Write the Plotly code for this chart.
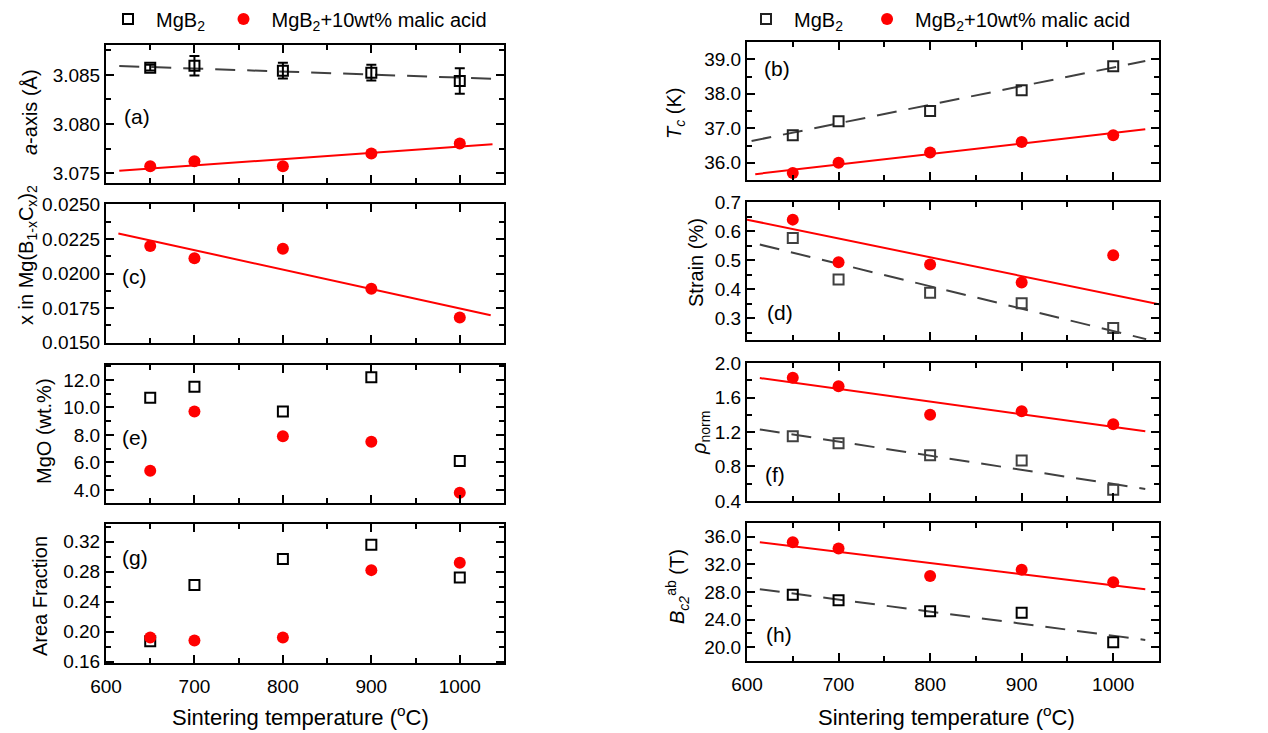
import plotly.graph_objects as go

# ---------------- data ----------------
temp = [650, 700, 800, 900, 1000]

a_mgb2 = [3.08575, 3.08595, 3.08544, 3.08524, 3.08439]
a_mgb2_err = [0.0003, 0.0010, 0.0008, 0.0008, 0.0013]
a_ma = [3.0757, 3.0762, 3.0757, 3.0770, 3.0780]
a_ma_err = [0.0002, 0.0002, 0.0002, 0.0002, 0.0002]
a_fit_x = [615, 1037]
a_fit_mgb2 = [3.08592, 3.08462]
a_fit_ma = [3.07523, 3.07793]

tc_mgb2 = [36.8, 37.2, 37.5, 38.1, 38.8]
tc_ma = [35.7, 36.0, 36.3, 36.6, 36.8]
tc_fit_x_mgb2 = [605, 1035]
tc_fit_mgb2 = [36.63, 38.95]
tc_fit_x_ma = [609, 1035]
tc_fit_ma = [35.67, 36.97]

xc_ma = [0.0220, 0.0211, 0.0218, 0.0189, 0.0168]
xc_fit_x = [614, 1035]
xc_fit_ma = [0.02291, 0.01697]

strain_mgb2 = [0.577, 0.434, 0.388, 0.352, 0.266]
strain_ma = [0.640, 0.493, 0.485, 0.423, 0.517]
strain_fit_x_mgb2 = [614, 1036]
strain_fit_mgb2 = [0.554, 0.228]
strain_fit_x_ma = [600, 1050]
strain_fit_ma = [0.640, 0.348]

mgo_mgb2 = [10.7, 11.5, 9.7, 12.2, 6.1]
mgo_ma = [5.4, 9.7, 7.9, 7.5, 3.8]

rho_mgb2 = [1.15, 1.07, 0.93, 0.87, 0.53]
rho_ma = [1.83, 1.73, 1.40, 1.44, 1.29]
rho_fit_x = [614, 1035]
rho_fit_mgb2 = [1.23, 0.54]
rho_fit_ma = [1.826, 1.208]

af_mgb2 = [0.187, 0.262, 0.297, 0.316, 0.272]
af_ma = [0.192, 0.188, 0.192, 0.282, 0.292]

bc2_mgb2 = [27.6, 26.8, 25.2, 25.0, 20.7]
bc2_ma = [35.2, 34.3, 30.3, 31.2, 29.4]
bc2_fit_x = [614, 1035]
bc2_fit_mgb2 = [28.4, 21.05]
bc2_fit_ma = [35.2, 28.4]

label_mgb2 = "MgB<sub>2</sub>"
label_ma = "MgB<sub>2</sub>+10wt% malic acid"

# ---------------- styles ----------------
W, H = 1268, 733
FONT = "Liberation Sans, Arial, sans-serif"
RED = "#ff0000"
BLK = "#000000"
GRY = "#404040"
DASH = "20px,12px"
TICKSIZE = 19

def px_to_xdom(a, b):
    return [a / W, b / W]

def px_to_ydom(top, bottom):
    return [1 - bottom / H, 1 - top / H]

left_x = px_to_xdom(106, 504)
right_x = px_to_xdom(747, 1159)

# panel: (xdomain, ypx top, ypx bottom, yrange, dtick, tick0, minor dtick, format, bottom row)
panels = {
    1: (left_x, 45, 183, [3.07398, 3.08806], 0.005, 3.075, 0.0025, ".3f", False),   # a
    2: (right_x, 42, 180, [35.5, 39.5], 1.0, 36.0, 0.5, ".1f", False),              # b
    3: (left_x, 204, 343, [0.01495, 0.02505], 0.0025, 0.015, 0.00125, ".4f", False), # c
    4: (right_x, 202, 340, [0.225, 0.7008], 0.1, 0.3, 0.05, ".1f", False),          # d
    5: (left_x, 365, 503, [3.05, 13.09], 2.0, 4.0, 1.0, ".1f", False),               # e
    6: (right_x, 363, 501, [0.3995, 2.0008], 0.4, 0.4, 0.2, ".1f", False),           # f
    7: (left_x, 524, 663, [0.158, 0.3436], 0.04, 0.16, 0.02, ".2f", True),           # g
    8: (right_x, 523, 661, [18.0, 37.98], 4.0, 20.0, 2.0, ".1f", True),              # h
}

fig = go.Figure()

def ax_names(i):
    return ("x" if i == 1 else f"x{i}"), ("y" if i == 1 else f"y{i}")

def add_markers(i, y, kind, color=None, err=None, legend=None, showlegend=False, pad=""):
    xa, ya = ax_names(i)
    if kind == "sq":
        c = color or BLK
        marker = dict(symbol="square-open", size=10, color=c, line=dict(width=2, color=c))
        name = label_mgb2 + pad
    else:
        marker = dict(symbol="circle", size=12, color=RED, line=dict(width=0))
        name = label_ma
    tr = dict(x=temp, y=y, mode="markers", marker=marker, name=name,
              xaxis=xa, yaxis=ya, showlegend=showlegend, cliponaxis=False)
    if legend:
        tr["legend"] = legend
    if err is not None:
        tr["error_y"] = dict(type="data", array=err, visible=True,
                             color=(BLK if kind == "sq" else RED), thickness=2, width=5)
    fig.add_trace(go.Scatter(**tr))

def add_fit(i, xs, ys, kind):
    xa, ya = ax_names(i)
    if kind == "sq":
        line = dict(color=GRY, width=2, dash=DASH)
    else:
        line = dict(color=RED, width=2)
    fig.add_trace(go.Scatter(x=xs, y=ys, mode="lines", line=line, xaxis=xa, yaxis=ya,
                             showlegend=False, hoverinfo="skip"))

# (a)
add_fit(1, a_fit_x, a_fit_mgb2, "sq")
add_fit(1, a_fit_x, a_fit_ma, "ci")
add_markers(1, a_mgb2, "sq", err=a_mgb2_err, legend="legend", showlegend=True, pad="\u00a0")
add_markers(1, a_ma, "ci", err=a_ma_err, legend="legend", showlegend=True)
# (b)
add_fit(2, tc_fit_x_mgb2, tc_fit_mgb2, "sq")
add_fit(2, tc_fit_x_ma, tc_fit_ma, "ci")
add_markers(2, tc_mgb2, "sq", color="#222222", legend="legend2", showlegend=True,
            pad="\u00a0\u00a0")
add_markers(2, tc_ma, "ci", legend="legend2", showlegend=True)
# (c)
add_fit(3, xc_fit_x, xc_fit_ma, "ci")
add_markers(3, xc_ma, "ci")
# (d)
add_fit(4, strain_fit_x_mgb2, strain_fit_mgb2, "sq")
add_fit(4, strain_fit_x_ma, strain_fit_ma, "ci")
add_markers(4, strain_mgb2, "sq", color=GRY)
add_markers(4, strain_ma, "ci")
# (e)
add_markers(5, mgo_mgb2, "sq")
add_markers(5, mgo_ma, "ci")
# (f)
add_fit(6, rho_fit_x, rho_fit_mgb2, "sq")
add_fit(6, rho_fit_x, rho_fit_ma, "ci")
add_markers(6, rho_mgb2, "sq", color=GRY)
add_markers(6, rho_ma, "ci")
# (g)
add_markers(7, af_mgb2, "sq")
add_markers(7, af_ma, "ci")
# (h)
add_fit(8, bc2_fit_x, bc2_fit_mgb2, "sq")
add_fit(8, bc2_fit_x, bc2_fit_ma, "ci")
add_markers(8, bc2_mgb2, "sq")
add_markers(8, bc2_ma, "ci")

layout = {}
for i, (xd, top, bot, yr, dt, t0, mdt, fmt, bottom) in panels.items():
    xa, ya = ax_names(i)
    xkey = "xaxis" if i == 1 else f"xaxis{i}"
    ykey = "yaxis" if i == 1 else f"yaxis{i}"
    common = dict(ticks="inside", ticklen=8, tickwidth=2, tickcolor="black",
                  showline=True, linewidth=2, linecolor="black", mirror="allticks",
                  showgrid=False, zeroline=False, automargin=False,
                  tickfont=dict(family=FONT, size=TICKSIZE, color="black"))
    layout[xkey] = dict(common, domain=xd, anchor=ya, range=[600, 1050],
                        tickmode="linear", tick0=600, dtick=100,
                        showticklabels=bottom, ticklabelstandoff=5,
                        minor=dict(tick0=600, dtick=50, ticks="inside", ticklen=5,
                                   tickwidth=2, tickcolor="black", showgrid=False))
    layout[ykey] = dict(common, domain=px_to_ydom(top, bot), anchor=xa, range=yr,
                        tickmode="linear", tick0=t0, dtick=dt, tickformat=fmt,
                        ticklabelstandoff=0,
                        minor=dict(tick0=t0, dtick=mdt, ticks="inside", ticklen=5,
                                   tickwidth=2, tickcolor="black", showgrid=False))

annotations = []
def ann(text, x, y, size=20, angle=0):
    annotations.append(dict(text=text, x=x / W, y=1 - y / H, xref="paper", yref="paper",
                            showarrow=False, xanchor="center", yanchor="middle",
                            textangle=angle, font=dict(family=FONT, size=size, color="black")))

# panel labels
for t, x, y in [("(a)", 137, 116), ("(c)", 134, 276), ("(e)", 135, 437), ("(g)", 135, 557),
                ("(b)", 777, 69), ("(d)", 780, 313), ("(f)", 775, 474), ("(h)", 779, 634)]:
    ann(t, x, y, size=21)

# y titles
ann("<i>a</i>-axis (Å)", 30, 112, angle=-90)
ann("x in Mg(B<sub>1-x</sub>C<sub>x</sub>)<sub>2</sub>", 27, 255, angle=-90)
ann("MgO (wt.%)", 44, 431, angle=-90)
ann("Area Fraction", 40, 596, angle=-90)
ann("<i>T</i><sub><i>c</i></sub> (K)", 676, 114, angle=-90)
ann("Strain (%)", 696, 263, angle=-90)
ann("<i>ρ</i><sub>norm</sub>", 700, 433, angle=-90)
ann("<i>B</i><sub><i>c2</i></sub><sup>ab</sup> (T)", 677, 587, angle=-90)

# x titles
ann("Sintering temperature (<sup>o</sup>C)", 300, 716, size=22)
ann("Sintering temperature (<sup>o</sup>C)", 946, 716, size=22)

legend_common = dict(orientation="h", yanchor="middle", xanchor="left",
                     font=dict(family=FONT, size=20, color="black"),
                     bgcolor="rgba(0,0,0,0)", borderwidth=0,
                     itemsizing="trace", tracegroupgap=0, itemwidth=46)

fig.update_layout(
    template="none",
    width=W, height=H, autosize=False,
    margin=dict(l=0, r=0, t=0, b=0, autoexpand=False),
    paper_bgcolor="white", plot_bgcolor="white",
    font=dict(family=FONT, size=20, color="black"),
    annotations=annotations,
    legend=dict(legend_common, x=100 / W, y=1 - 19 / H),
    legend2=dict(legend_common, x=738 / W, y=1 - 19 / H),
    **layout,
)

fig.write_html("out.html", config={"displayModeBar": False},
               post_script="document.body.style.margin='0';document.body.style.overflow='hidden';")
